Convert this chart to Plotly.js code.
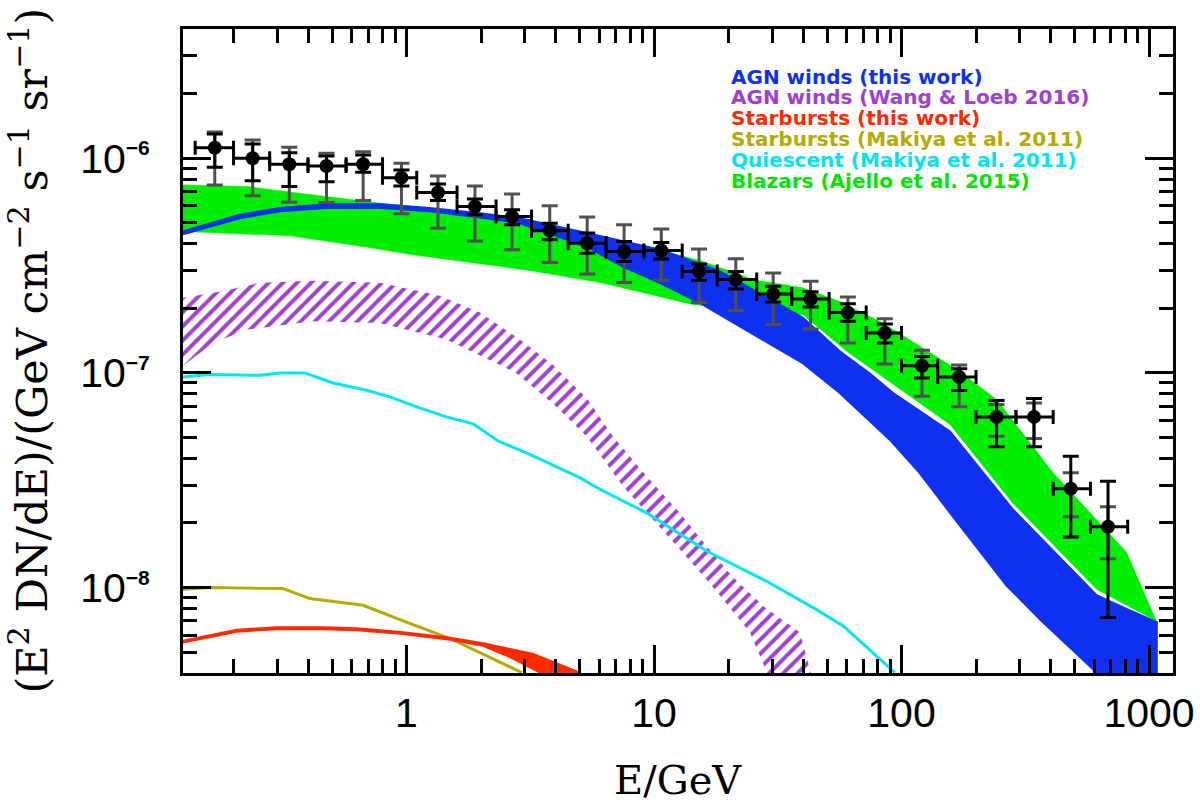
<!DOCTYPE html>
<html>
<head>
<meta charset="utf-8">
<script src="https://cdn.plot.ly/plotly-3.0.1.min.js"></script>
<style>html,body{margin:0;padding:0;background:#fff;}</style>
</head>
<body>
<div id="chart" style="width:1200px;height:805px;"></div>
<script>
"use strict";
// axis limits
var xMin=0.125, xMax=1250, yMin=4e-9, yMax=4e-6;

// Fermi IGRB points : bin centres, bin edges, flux, stat (black) and total (grey) bar ends
var dataE=[0.168,0.239,0.336,0.475,0.668,0.954,1.34,1.89,2.67,3.79,5.37,7.57,10.7,15.2,21.4,30.3,42.9,60.7,85.6,121,171,242,343,483,683];
var binEdges=[0.14,0.2,0.28,0.4,0.57,0.8,1.1,1.6,2.3,3.2,4.5,6.4,9.1,13,18,26,36,51,72,100,140,200,290,410,580,820];
var dataF=[1.12e-6,1.00e-6,9.38e-7,9.20e-7,9.38e-7,8.12e-7,6.92e-7,5.96e-7,5.35e-7,4.60e-7,4.02e-7,3.68e-7,3.72e-7,2.97e-7,2.72e-7,2.33e-7,2.21e-7,1.91e-7,1.535e-7,1.08e-7,9.58e-8,6.24e-8,6.24e-8,2.89e-8,1.92e-8];
var statTop=[1.297e-6,1.166e-6,1.062e-6,1.025e-6,1.036e-6,8.82e-7,7.59e-7,6.45e-7,5.75e-7,4.98e-7,4.48e-7,4.09e-7,4.05e-7,3.22e-7,2.97e-7,2.53e-7,2.39e-7,2.10e-7,1.69e-7,1.194e-7,1.047e-7,7.43e-8,7.59e-8,4.09e-8,3.13e-8];
var statBot=[9.08e-7,7.86e-7,7.38e-7,7.78e-7,8.61e-7,7.43e-7,6.35e-7,5.45e-7,4.90e-7,4.17e-7,3.61e-7,3.30e-7,3.39e-7,2.70e-7,2.46e-7,2.14e-7,2.03e-7,1.74e-7,1.38e-7,9.48e-8,8.27e-8,4.53e-8,4.53e-8,1.72e-8,7.25e-9];
var sysTop=[1.326e-6,1.216e-6,1.125e-6,1.055e-6,1.073e-6,9.48e-7,8.27e-7,7.43e-7,6.82e-7,6.00e-7,5.32e-7,4.90e-7,4.68e-7,3.78e-7,3.40e-7,2.92e-7,2.67e-7,2.26e-7,1.79e-7,1.274e-7,1.089e-7,7.12e-8,7.25e-8,3.43e-8,2.38e-8];
var sysBot=[7.51e-7,6.68e-7,6.24e-7,6.22e-7,6.35e-7,5.51e-7,4.72e-7,4.12e-7,3.75e-7,3.27e-7,2.89e-7,2.64e-7,2.70e-7,2.13e-7,1.955e-7,1.68e-7,1.60e-7,1.38e-7,1.10e-7,7.78e-8,6.95e-8,5.07e-8,4.95e-8,2.14e-8,1.364e-8];

// Blazars (Ajello et al. 2015) band
var blazarTopE=[0.125,0.226,0.42,0.78,1.45,2.87,6.21,9.89,15.8,25.1,39.9,56.3,84.0,167,242,409,811,1070];
var blazarTopF=[7.51e-7,7.38e-7,6.75e-7,6.18e-7,5.75e-7,5.05e-7,4.17e-7,3.81e-7,3.30e-7,2.72e-7,2.49e-7,2.15e-7,1.71e-7,1.04e-7,7.51e-8,3.44e-8,1.46e-8,6.99e-9];
var blazarBotE=[0.125,0.338,0.666,1.06,3.15,6.21,14.4,39.9,60.0,157,282,614,1070];
var blazarBotF=[4.56e-7,4.35e-7,3.88e-7,3.55e-7,3.00e-7,2.62e-7,2.08e-7,1.87e-7,1.26e-7,5.75e-8,2.47e-8,9.82e-9,6.99e-9];

// AGN winds (this work) band
var agnTopE=[0.125,0.212,0.308,0.475,0.78,1.24,1.98,2.87,5.34,10.6,18.5,39.9,56.3,74.5,91.9,157,282,614,815,1075];
var agnTopF=[4.57e-7,5.45e-7,5.87e-7,6.10e-7,6.10e-7,5.87e-7,5.54e-7,5.26e-7,4.48e-7,3.75e-7,2.97e-7,1.81e-7,1.26e-7,9.93e-8,8.10e-8,5.33e-8,2.31e-8,9.21e-9,7.93e-9,6.90e-9];
var agnBotE=[0.125,0.212,0.308,0.475,0.78,1.24,1.98,2.87,5.34,7.48,10.6,15.3,39.9,56.3,89.4,118,157,266,362,614,1075];
var agnBotF=[4.42e-7,5.25e-7,5.66e-7,5.87e-7,5.87e-7,5.66e-7,5.30e-7,4.98e-7,3.88e-7,3.13e-7,2.62e-7,2.12e-7,1.11e-7,8.07e-8,4.90e-8,3.43e-8,2.23e-8,1.02e-8,7.12e-9,4.02e-9,2.5e-9];

// AGN winds (Wang & Loeb 2016) band
var wangTopE=[0.125,0.176,0.256,0.418,0.78,1.36,1.98,2.87,3.90,5.40,6.82,9.33,12.7,16.3,20.8,28.0,38.8,43.0,46.8];
var wangTopF=[2.24e-7,2.39e-7,2.63e-7,2.69e-7,2.63e-7,2.29e-7,1.91e-7,1.43e-7,1.09e-7,7.51e-8,5.07e-8,3.30e-8,2.23e-8,1.56e-8,1.12e-8,8.10e-9,6.20e-9,4.02e-9,3.02e-9];
var wangBotE=[0.125,0.165,0.226,0.418,0.78,1.45,2.74,3.90,5.34,7.48,9.62,12.7,16.3,19.0,24.4,28.6,30.8];
var wangBotF=[1.08e-7,1.38e-7,1.59e-7,1.74e-7,1.71e-7,1.43e-7,1.01e-7,7.20e-8,5.07e-8,2.97e-8,2.15e-8,1.51e-8,1.09e-8,8.82e-9,6.20e-9,4.02e-9,3.02e-9];

// Quiescent (Makiya et al. 2011)
var quiescentE=[0.125,0.160,0.256,0.308,0.388,0.505,0.689,0.856,1.13,1.45,1.86,2.35,3.15,4.04,5.01,6.04,9.33,16.3,20.3,28.5,43.9,58.1,94.0];
var quiescentF=[9.58e-8,9.82e-8,9.75e-8,1.00e-7,1.00e-7,8.98e-8,8.30e-8,7.73e-8,6.87e-8,6.24e-8,5.79e-8,4.81e-8,4.17e-8,3.65e-8,3.25e-8,2.87e-8,2.23e-8,1.48e-8,1.30e-8,1.07e-8,8.07e-9,6.63e-9,4.02e-9];

// Starbursts (Makiya et al. 2011)
var makiyaSbE=[0.125,0.160,0.317,0.407,0.668,0.969,1.50,2.92];
var makiyaSbF=[9.82e-9,1.00e-8,9.89e-9,8.89e-9,8.27e-9,6.99e-9,5.79e-9,4.02e-9];

// Starbursts (this work) band
var sbTopE=[0.125,0.206,0.298,0.460,0.628,0.969,1.50,2.04,3.25,5.01,5.50];
var sbTopF=[5.65e-9,6.36e-9,6.54e-9,6.54e-9,6.47e-9,6.20e-9,5.84e-9,5.51e-9,4.90e-9,4.02e-9,3.37e-9];
var sbBotE=[0.125,0.206,0.298,0.460,0.628,0.969,1.50,2.04,2.62,3.46,3.72];
var sbBotF=[5.54e-9,6.23e-9,6.40e-9,6.40e-9,6.33e-9,6.07e-9,5.72e-9,5.36e-9,4.74e-9,4.02e-9,3.37e-9];

// ticks and legend
var xTickVals=[1,10,100,1000];
var xTickText=['1','10','100','1000'];
var xMinorVals=[0.2,0.3,0.4,0.5,0.6,0.7,0.8,0.9,2,3,4,5,6,7,8,9,20,30,40,50,60,70,80,90,200,300,400,500,600,700,800,900];
var yTickVals=[1e-8,1e-7,1e-6];
var yTickExp=['−8','−7','−6'];
var yMinorVals=[5e-9,6e-9,7e-9,8e-9,9e-9,2e-8,3e-8,4e-8,5e-8,6e-8,7e-8,8e-8,9e-8,2e-7,3e-7,4e-7,5e-7,6e-7,7e-7,8e-7,9e-7,2e-6,3e-6];
var legendText=['AGN winds (this work)','AGN winds (Wang &amp; Loeb 2016)','Starbursts (this work)','Starbursts (Makiya et al. 2011)','Quiescent (Makiya et al. 2011)','Blazars (Ajello et al. 2015)'];
var legendColor=['#1030f0','#a040d0','#ff2a00','#b5aa00','#00e5f0','#00e600'];

var GREEN='#00ee00', BLUE='#1030f0', PURPLE='#a040d0', RED='#ff2a00', OLIVE='#b5aa00', CYAN='#00e8f0';

function band(topE, topF, botE, botF){ //closed polygon : top edge then bottom edge backwards
	return {
		x: topE.concat(botE.slice().reverse()),
		y: topF.concat(botF.slice().reverse())
	};
}
function diff(a, b){
	return a.map(function(v, i){ return v-b[i]; });
}

var gBand=band(blazarTopE, blazarTopF, blazarBotE, blazarBotF);
var bBand=band(agnTopE, agnTopF, agnBotE, agnBotF);
var pBand=band(wangTopE, wangTopF, wangBotE, wangBotF);
var rBand=band(sbTopE, sbTopF, sbBotE, sbBotF);

var binLo=binEdges.slice(0, -1), binHi=binEdges.slice(1);

var traces=[
	{x: gBand.x, y: gBand.y, mode: 'lines', fill: 'toself', fillcolor: GREEN, line: {color: GREEN, width: 0.5}},
	{x: bBand.x, y: bBand.y, mode: 'lines', fill: 'toself', fillcolor: BLUE, line: {color: BLUE, width: 2}},
	{x: pBand.x, y: pBand.y, mode: 'lines', fill: 'toself', fillcolor: 'rgba(0,0,0,0)',
		fillpattern: {shape: '/', fgcolor: PURPLE, bgcolor: 'rgba(0,0,0,0)', size: 10, solidity: 0.4},
		line: {color: 'rgba(0,0,0,0)', width: 0}},
	{x: quiescentE, y: quiescentF, mode: 'lines', line: {color: CYAN, width: 3}},
	{x: makiyaSbE, y: makiyaSbF, mode: 'lines', line: {color: OLIVE, width: 3}},
	{x: rBand.x, y: rBand.y, mode: 'lines', fill: 'toself', fillcolor: RED, line: {color: RED, width: 2}},
	//grey : total errors
	{x: dataE, y: dataF, mode: 'markers', marker: {size: 1, color: 'rgba(0,0,0,0)'},
		error_y: {type: 'data', symmetric: false, array: diff(sysTop, dataF), arrayminus: diff(dataF, sysBot),
			color: '#505050', thickness: 3, width: 8}},
	//black : stat errors + bins
	{x: dataE, y: dataF, mode: 'markers', marker: {size: 14, color: 'black'},
		error_y: {type: 'data', symmetric: false, array: diff(statTop, dataF), arrayminus: diff(dataF, statBot),
			color: 'black', thickness: 3, width: 8},
		error_x: {type: 'data', symmetric: false, array: diff(binHi, dataE), arrayminus: diff(dataE, binLo),
			color: 'black', thickness: 3, width: 7}}
];
traces.forEach(function(t){ t.type='scatter'; t.hoverinfo='skip'; t.showlegend=false; });

var annotations=legendText.map(function(txt, i){
	return {
		xref: 'paper', yref: 'paper', x: 0.5517, y: 0.9262-0.0323*i,
		xanchor: 'left', yanchor: 'middle', showarrow: false, text: '<b>'+txt+'</b>',
		font: {family: 'DejaVu Sans', size: 20, color: legendColor[i]}
	};
});
annotations.push({
	xref: 'paper', yref: 'paper', x: 0.5, y: -0.166, xanchor: 'center', yanchor: 'middle', showarrow: false,
	text: 'E/GeV', font: {family: 'DejaVu Serif', size: 40, color: 'black'}
});
annotations.push({
	xref: 'paper', yref: 'paper', x: -0.156, y: 0.5, xanchor: 'center', yanchor: 'middle', showarrow: false,
	textangle: -90,
	text: '(E<sup>2</sup> DN/dE)/(GeV cm<sup>−2</sup> s<sup>−1</sup> sr<sup>−1</sup>)',
	font: {family: 'DejaVu Serif', size: 43, color: 'black'}
});

function axisBase(){
	return {
		type: 'log', showline: true, linecolor: 'black', linewidth: 3, mirror: 'ticks',
		ticks: 'inside', ticklen: 28, tickwidth: 3, tickcolor: 'black',
		showgrid: false, zeroline: false, tickmode: 'array', automargin: false
	};
}
var xaxis=axisBase();
xaxis.range=[Math.log10(xMin), Math.log10(xMax)];
xaxis.tickvals=xTickVals;
xaxis.ticktext=xTickText;
xaxis.tickfont={family: 'Liberation Sans', size: 41, color: 'black'};
xaxis.ticklabelstandoff=2;
xaxis.minor={tickmode: 'array', tickvals: xMinorVals, ticks: 'inside', ticklen: 14, tickwidth: 3, tickcolor: 'black', showgrid: false};

var yaxis=axisBase();
yaxis.range=[Math.log10(yMin), Math.log10(yMax)];
yaxis.tickvals=yTickVals;
yaxis.ticktext=yTickExp.map(function(e){
	return '10<sup><span style="font-size:21px;font-weight:bold">'+e+'</span></sup>';
});
yaxis.tickfont={family: 'Liberation Sans', size: 41, color: 'black'};
yaxis.ticklabelstandoff=22;
yaxis.minor={tickmode: 'array', tickvals: yMinorVals, ticks: 'inside', ticklen: 14, tickwidth: 3, tickcolor: 'black', showgrid: false};

var layout={
	width: 1200, height: 805,
	margin: {l: 183, r: 27, t: 29, b: 132},
	paper_bgcolor: 'white', plot_bgcolor: 'white',
	showlegend: false,
	xaxis: xaxis, yaxis: yaxis,
	annotations: annotations
};

Plotly.newPlot('chart', traces, layout, {staticPlot: true});
</script>
</body>
</html>
